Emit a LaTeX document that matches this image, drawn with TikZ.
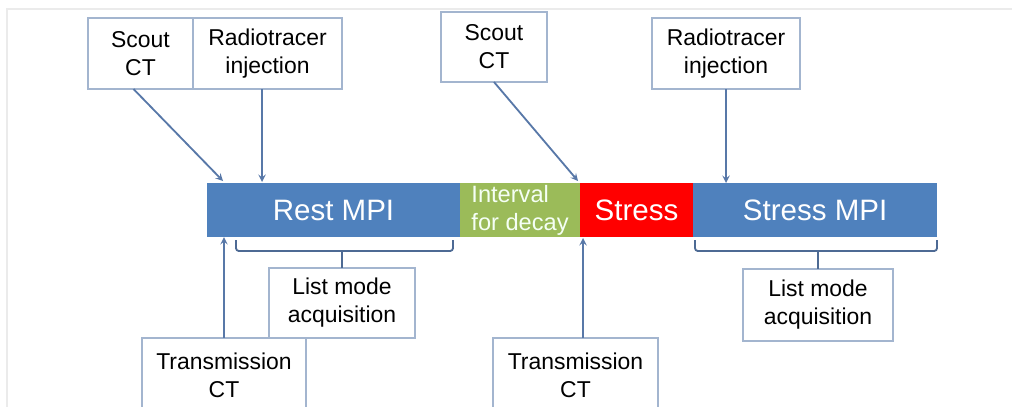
\documentclass[tikz,border=0pt]{standalone}
\usepackage{fontspec}
\setmainfont{Liberation Sans}
\usepackage{tikz}
\usepackage{xcolor}
\usetikzlibrary{positioning}

\definecolor{barblue}{HTML}{4F81BD}
\definecolor{bargreen}{HTML}{9BBB59}
\definecolor{barred}{HTML}{FF0000}
\definecolor{boxline}{HTML}{A3B5CF}
\definecolor{arrowblue}{HTML}{5878A8}
\definecolor{bracketblue}{HTML}{4D6A94}

\begin{document}
\begin{tikzpicture}[
                x=0.025cm, y=-0.025cm,
                label box/.style={draw=boxline, line width=0.9pt, fill=white, align=center,
                    inner sep=0pt, outer sep=0pt, minimum height=1.775cm,
                    font=\fontsize{16.3}{19.9}\selectfont},
                bar/.style={inner sep=0pt, outer sep=0pt, minimum height=1.35cm,
                    text=white, font=\fontsize{21}{24}\selectfont},
                arr/.style={draw=arrowblue, line width=1.3pt, -stealth},
                brace/.style={draw=bracketblue, line width=1.3pt, rounded corners=2pt}]
            \clip (0,0) rectangle (1012,407);
            \draw[black!8, line width=0.8pt] (7,407) -- (7,9) -- (1012,9);

            \node[bar, fill=barblue, minimum width=6.325cm] (rest) at (333.5,210) {Rest MPI};
            \node[bar, fill=bargreen, minimum width=3cm, align=left, text=green!4!white,
                font=\fontsize{16.8}{19.9}\selectfont, right=0pt of rest] (decay) {Interval\\for decay};
            \node[bar, fill=barred, minimum width=2.825cm, right=0pt of decay] (stress) {Stress};
            \node[bar, fill=barblue, minimum width=6.1cm, right=0pt of stress] (stressmpi) {Stress MPI};

            \node[label box, minimum width=2.625cm] (scoutA) at (140.5,53.5) {Scout\\CT};
            \node[label box, minimum width=3.725cm] (tracerA) at (267.5,53.5) {Radiotracer\\injection};
            \node[label box, minimum width=2.65cm, minimum height=1.75cm] (scoutB) at (494,47) {Scout\\CT};
            \node[label box, minimum width=3.7cm] (tracerB) at (726,53.5) {Radiotracer\\injection};
            \node[label box, minimum width=3.65cm, minimum height=1.75cm] (listA) at (342,303) {List mode\\acquisition};
            \node[label box, minimum width=3.75cm, minimum height=1.8cm] (listB) at (818,305) {List mode\\acquisition};
            \node[label box, minimum width=4.1cm, minimum height=1.85cm] (transA) at (224,375) {Transmission\\CT};
            \node[label box, minimum width=4.125cm, minimum height=1.85cm] (transB) at (575.5,375) {Transmission\\CT};

            \coordinate (scoutAin) at (223,181);
            \coordinate (tracerAin) at (262,182);
            \coordinate (scoutBin) at (578,181);
            \coordinate (transBin) at (583,238);

            \draw[arr] (scoutA.south) ++(-7,0) -- (scoutAin);
            \draw[arr] (tracerAin |- tracerA.south) -- (tracerAin);
            \draw[arr] (scoutB.south) -- (scoutBin);
            \draw[arr] (tracerB.south) -- (tracerB.south |- stressmpi.north);
            \draw[arr] (transA.north) -- (transA.north |- rest.south);
            \draw[arr] (transBin |- transB.north) -- (transBin);

            \draw[brace] (236,240) -- (236,251) -- (453,251) -- (453,240);
            \draw[brace] (listA.north |- 0,251) -- (listA.north);
            \draw[brace] (695,240) -- (695,251) -- (937,251) -- (937,240);
            \draw[brace] (listB.north |- 0,251) -- (listB.north);
        \end{tikzpicture}
\end{document}
